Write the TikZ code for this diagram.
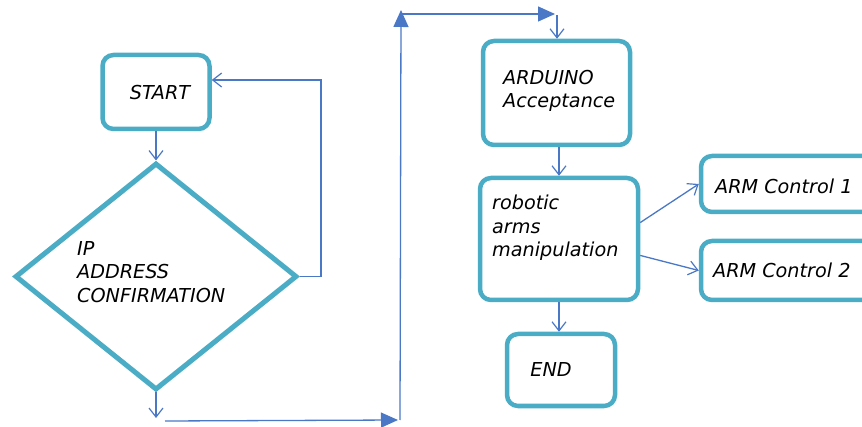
\documentclass[tikz,border=0pt]{standalone}
\usepackage{fontspec}
\setmainfont{DejaVu Sans}
\usetikzlibrary{arrows.meta,shapes.geometric,calc}
\definecolor{boxc}{HTML}{4BACC6}
\definecolor{linec}{HTML}{4A78C6}
\tikzset{
  box/.style={draw=boxc, line width=4.5pt, rounded corners=11pt, fill=white, inner sep=0pt},
  lbl/.style={font=\fontsize{19.2}{23.7}\selectfont\itshape, align=left, inner sep=0pt, text=black},
  conn/.style={draw=linec, line width=1.3pt, -{Straight Barb[length=9pt,width=14pt,line width=1.2pt]}},
  fconn/.style={draw=linec, line width=1.3pt, -{Triangle[length=17pt,width=15pt]}},
}
\begin{document}
\begin{tikzpicture}[x=1pt,y=-1pt]
\useasboundingbox (0,0) rectangle (862,427);
\clip (0,0) rectangle (862,427);
% boxes
\node[box, minimum width=107pt, minimum height=74pt] (start) at (156,92) {};
\node[draw=boxc, line width=5pt, diamond, fill=white, minimum width=282pt, minimum height=227pt, inner sep=0pt] (dia) at (156,276.5) {};
\node[box, minimum width=147pt, minimum height=104pt] (ard) at (556.5,93) {};
\node[box, minimum width=158pt, minimum height=122pt] (rob) at (559,239) {};
\node[box, minimum width=108pt, minimum height=72pt] (end) at (561,370) {};
\node[box, minimum width=180pt, minimum height=56pt] (arm1) at (791,184) {};
\node[box, minimum width=180pt, minimum height=59pt] (arm2) at (791,270.5) {};
% labels
\node[lbl] (tstart) at (160,93) {START};
\node[lbl, anchor=west] (tdia) at (77,272) {IP\\ADDRESS\\CONFIRMATION};
\node[lbl, anchor=west] (tard) at (503,91) {ARDUINO\\Acceptance};
\node[lbl, anchor=west] (trob) at (492,228) {robotic\\arms\\manipulation};
\node[lbl] (tend) at (551,370) {END};
\node[lbl, anchor=west] (tarm1) at (715,186) {ARM Control 1};
\node[lbl, anchor=west] (tarm2) at (713,270) {ARM Control 2};
% coordinates
\coordinate (loopT) at (321,80);
\coordinate (d1) at (156,418);
\coordinate (b1) at (165,421);
\coordinate (b2) at (398,420);
\coordinate (c1) at (400,420);
\coordinate (c2) at (401,10);
\coordinate (t1) at (402,14);
\coordinate (t2) at (555,14);
\coordinate (t3) at (557,15);
% connectors
\draw[conn] (start.south) -- (dia.north);
\draw[conn] (dia.east) -| (loopT) -- (start.east |- loopT);
\draw[conn] (dia.south) -- (d1);
\draw[fconn] (b1) -- (b2);
\draw[fconn] (c1) -- (c2);
\draw[fconn] (t1) -- (t2);
\draw[conn] (t3) -- (t3 |- ard.north);
\draw[conn] (rob.north |- ard.south) -- (rob.north);
\draw[conn] ($(rob.north east)!0.37!(rob.south east)$) -- (arm1.west);
\draw[conn] ($(rob.north east)!0.63!(rob.south east)$) -- (arm2.west);
\draw[conn] (rob.south) -- (rob.south |- end.north);
\end{tikzpicture}
\end{document}
